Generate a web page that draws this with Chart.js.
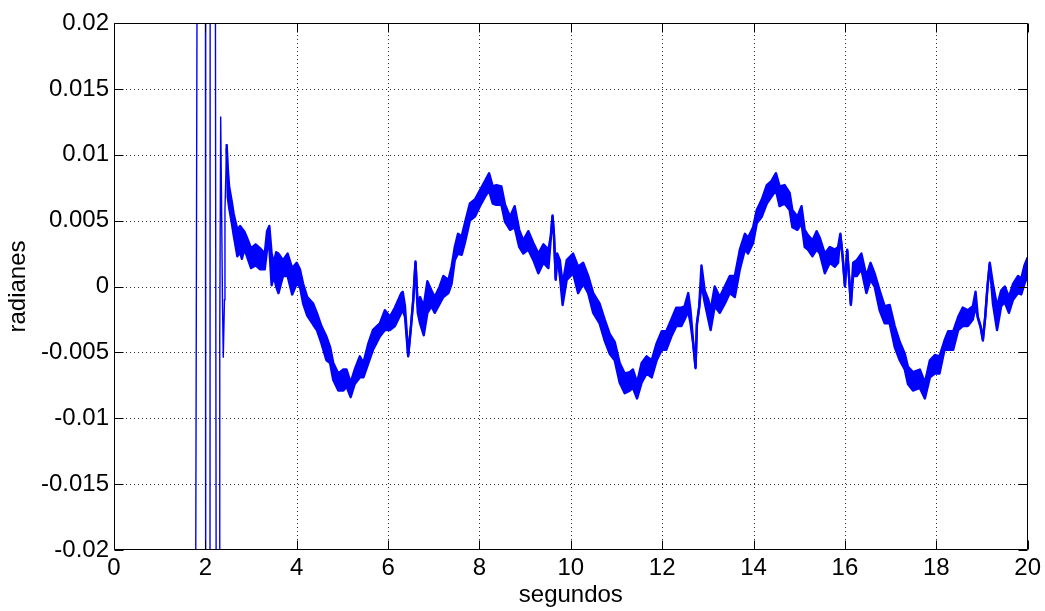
<!DOCTYPE html>
<html>
<head>
<meta charset="utf-8">
<title>radianes vs segundos</title>
<script src="https://cdn.jsdelivr.net/npm/chart.js@4/dist/chart.umd.min.js"></script>
<style>
  html, body { margin: 0; padding: 0; background: #ffffff; }
  canvas { display: block; }
</style>
</head>
<body>
<canvas id="c" width="1045" height="611"></canvas>
<script>
// Start-up transient: fast swings that leave the visible range before settling
const transientTime = [1.783, 1.823, 2.002, 2.007, 2.101, 2.105, 2.217, 2.239, 2.304, 2.315, 2.335, 2.352, 2.374, 2.392, 2.418, 2.429, 2.466];
const transientValue = [-0.03, 0.03, 0.03, -0.03, -0.03, 0.03, 0.03, -0.03, -0.03, -0.0038, 0.0129, 0.0073, -0.001, -0.0054, -0.001, 0.0058, 0.0108];

// Settled response: the fast oscillation is drawn as a band between its upper and lower envelopes
const bandTime = [
  2.466, 2.49, 2.52, 2.58, 2.62, 2.70, 2.76, 2.80, 2.85, 2.90,
  3.00, 3.10, 3.20, 3.30, 3.35, 3.40, 3.45, 3.50, 3.55, 3.60,
  3.70, 3.80, 3.90, 4.00, 4.07, 4.14, 4.23, 4.36, 4.44, 4.54,
  4.65, 4.73, 4.80, 4.91, 5.02, 5.09, 5.18, 5.27, 5.38, 5.46,
  5.57, 5.67, 5.82, 5.93, 6.04, 6.15, 6.29, 6.32, 6.37, 6.44,
  6.50, 6.55, 6.60, 6.65, 6.70, 6.78, 6.86, 6.95, 7.02, 7.13,
  7.21, 7.32, 7.39, 7.46, 7.53, 7.61, 7.68, 7.79, 7.90, 8.01,
  8.12, 8.21, 8.29, 8.37, 8.48, 8.56, 8.67, 8.77, 8.87, 8.96,
  9.07, 9.18, 9.29, 9.40, 9.51, 9.56, 9.60, 9.63, 9.67, 9.70,
  9.76, 9.82, 9.91, 10.05, 10.16, 10.27, 10.38, 10.49, 10.63, 10.74,
  10.85, 10.96, 11.07, 11.18, 11.29, 11.36, 11.45, 11.55, 11.66, 11.77,
  11.88, 11.99, 12.09, 12.20, 12.31, 12.42, 12.49, 12.57, 12.62, 12.68,
  12.73, 12.76, 12.81, 12.86, 12.93, 13.01, 13.06, 13.15, 13.26, 13.37,
  13.48, 13.59, 13.70, 13.81, 13.88, 13.99, 14.07, 14.18, 14.29, 14.39,
  14.49, 14.57, 14.68, 14.79, 14.85, 14.96, 15.05, 15.12, 15.19, 15.29,
  15.38, 15.45, 15.56, 15.67, 15.78, 15.85, 15.90, 15.95, 16.00, 16.05,
  16.09, 16.13, 16.18, 16.26, 16.36, 16.47, 16.56, 16.65, 16.76, 16.87,
  16.98, 17.09, 17.20, 17.31, 17.38, 17.49, 17.64, 17.75, 17.86, 17.97,
  18.07, 18.18, 18.26, 18.37, 18.48, 18.58, 18.69, 18.80, 18.86, 18.91,
  18.97, 19.02, 19.07, 19.12, 19.17, 19.24, 19.33, 19.42, 19.50, 19.59,
  19.68, 19.79, 19.86, 19.93, 20.00
];
const bandUpper = [
  0.0108, 0.0090, 0.0076, 0.0064, 0.0055, 0.0043, 0.0046, 0.0044, 0.0042, 0.0038,
  0.0029, 0.0032, 0.0029, 0.0025, 0.0042, 0.0046, 0.0025, 0.0018, 0.0026, 0.0025,
  0.0020, 0.0025, 0.0014, 0.0018, 0.0013, 0.0002, -0.0008, -0.0013, -0.0020, -0.0030,
  -0.0038, -0.0046, -0.0058, -0.0066, -0.0063, -0.0063, -0.0073, -0.0063, -0.0053, -0.0058,
  -0.0043, -0.0033, -0.0028, -0.0018, -0.0023, -0.0016, -0.0005, -0.0004, -0.0015, -0.0052,
  -0.0030, -0.0010, 0.0019, -0.0015, -0.0008, -0.0015, 0.0004, -0.0003, -0.0008, 0.0000,
  0.0008, 0.0005, 0.0015, 0.0030, 0.0040, 0.0038, 0.0048, 0.0063, 0.0066, 0.0073,
  0.0080, 0.0086, 0.0076, 0.0077, 0.0076, 0.0062, 0.0053, 0.0061, 0.0043, 0.0035,
  0.0042, 0.0033, 0.0025, 0.0032, 0.0028, 0.0038, 0.0054, 0.0040, 0.0006, 0.0025,
  0.0020, 0.0002, 0.0020, 0.0025, 0.0015, 0.0018, 0.0008, -0.0005, -0.0013, -0.0025,
  -0.0036, -0.0042, -0.0058, -0.0066, -0.0065, -0.0063, -0.0073, -0.0058, -0.0053, -0.0056,
  -0.0043, -0.0034, -0.0034, -0.0025, -0.0016, -0.0016, -0.0015, -0.0005, -0.0018, -0.0043,
  -0.0061, -0.0028, -0.0015, 0.0016, -0.0003, -0.0010, -0.0018, 0.0000, -0.0008, 0.0000,
  0.0008, 0.0008, 0.0028, 0.0040, 0.0037, 0.0045, 0.0058, 0.0066, 0.0077, 0.0080,
  0.0086, 0.0076, 0.0077, 0.0071, 0.0058, 0.0053, 0.0061, 0.0043, 0.0039, 0.0035,
  0.0042, 0.0037, 0.0025, 0.0030, 0.0028, 0.0030, 0.0040, 0.0023, 0.0001, 0.0028,
  0.0008, -0.0013, 0.0018, 0.0020, 0.0025, 0.0008, 0.0018, 0.0010, -0.0003, -0.0015,
  -0.0014, -0.0030, -0.0042, -0.0051, -0.0061, -0.0065, -0.0063, -0.0073, -0.0056, -0.0052,
  -0.0053, -0.0041, -0.0034, -0.0034, -0.0023, -0.0016, -0.0018, -0.0015, -0.0004, -0.0023,
  -0.0030, -0.0040, -0.0023, 0.0000, 0.0018, 0.0002, -0.0015, -0.0003, 0.0000, -0.0008,
  0.0002, 0.0008, 0.0006, 0.0016, 0.0022
];
const bandLower = [
  0.0105, 0.0068, 0.0060, 0.0048, 0.0039, 0.0023, 0.0026, 0.0021, 0.0028, 0.0024,
  0.0014, 0.0016, 0.0013, 0.0013, 0.0028, 0.0030, 0.0001, 0.0008, 0.0000, -0.0005,
  0.0008, 0.0008, -0.0006, 0.0002, 0.0000, -0.0013, -0.0022, -0.0029, -0.0033, -0.0043,
  -0.0056, -0.0058, -0.0071, -0.0079, -0.0079, -0.0076, -0.0084, -0.0074, -0.0069, -0.0069,
  -0.0058, -0.0048, -0.0038, -0.0033, -0.0033, -0.0030, -0.0020, -0.0018, -0.0023, -0.0053,
  -0.0031, -0.0011, 0.0018, -0.0020, -0.0028, -0.0037, -0.0020, -0.0015, -0.0020, -0.0013,
  -0.0008, -0.0005, 0.0002, 0.0020, 0.0025, 0.0024, 0.0033, 0.0050, 0.0053, 0.0061,
  0.0068, 0.0073, 0.0063, 0.0062, 0.0062, 0.0049, 0.0043, 0.0045, 0.0030, 0.0025,
  0.0028, 0.0020, 0.0010, 0.0018, 0.0014, 0.0036, 0.0053, 0.0039, 0.0005, 0.0024,
  0.0008, -0.0014, 0.0005, 0.0010, -0.0005, 0.0002, -0.0005, -0.0020, -0.0028, -0.0041,
  -0.0051, -0.0056, -0.0073, -0.0081, -0.0079, -0.0077, -0.0085, -0.0073, -0.0066, -0.0069,
  -0.0056, -0.0048, -0.0048, -0.0038, -0.0030, -0.0030, -0.0025, -0.0019, -0.0028, -0.0044,
  -0.0062, -0.0029, -0.0016, 0.0002, -0.0012, -0.0025, -0.0033, -0.0015, -0.0020, -0.0013,
  -0.0005, -0.0008, 0.0013, 0.0028, 0.0025, 0.0033, 0.0048, 0.0053, 0.0063, 0.0068,
  0.0073, 0.0061, 0.0063, 0.0058, 0.0045, 0.0043, 0.0048, 0.0030, 0.0028, 0.0023,
  0.0028, 0.0025, 0.0010, 0.0018, 0.0015, 0.0018, 0.0039, 0.0022, 0.0000, 0.0027,
  0.0007, -0.0014, 0.0008, 0.0008, 0.0013, -0.0005, 0.0005, 0.0000, -0.0018, -0.0028,
  -0.0028, -0.0046, -0.0056, -0.0063, -0.0074, -0.0079, -0.0077, -0.0085, -0.0069, -0.0066,
  -0.0066, -0.0048, -0.0048, -0.0048, -0.0033, -0.0030, -0.0030, -0.0025, -0.0015, -0.0024,
  -0.0031, -0.0041, -0.0024, -0.0001, 0.0017, -0.0013, -0.0033, -0.0015, -0.0012, -0.0020,
  -0.0010, -0.0005, -0.0006, 0.0002, 0.0008
];

// Axis ticks and their labels
const xTickValues = [0, 2, 4, 6, 8, 10, 12, 14, 16, 18, 20];
const xTickLabels = ['0', '2', '4', '6', '8', '10', '12', '14', '16', '18', '20'];
const yTickValues = [-0.02, -0.015, -0.01, -0.005, 0, 0.005, 0.01, 0.015, 0.02];
const yTickLabels = ['-0.02', '-0.015', '-0.01', '-0.005', '0', '0.005', '0.01', '0.015', '0.02'];

const xTitle = 'segundos';
const yTitle = 'radianes';

const FONT = "'Liberation Sans', Arial, Helvetica, sans-serif";
const BLUE = '#0000ff';

function toPoints(xs, ys) {
  return xs.map((x, i) => ({ x: x, y: ys[i] }));
}

// Dotted grid under the data, solid box with inward tick marks over it
const boxedAxes = {
  id: 'boxedAxes',
  beforeDatasetsDraw(chart) {
    const { ctx, chartArea: a, scales } = chart;
    const xs = scales.x, ys = scales.y;
    ctx.save();
    ctx.strokeStyle = 'rgba(0,0,0,0.8)';
    ctx.lineWidth = 1;
    ctx.setLineDash([1, 3]);
    ctx.beginPath();
    xTickValues.forEach(v => {
      if (v > xs.min && v < xs.max) {
        const px = Math.round(xs.getPixelForValue(v)) + 0.5;
        ctx.moveTo(px, a.top);
        ctx.lineTo(px, a.bottom);
      }
    });
    yTickValues.forEach(v => {
      if (v > ys.min && v < ys.max) {
        const py = Math.round(ys.getPixelForValue(v)) + 0.5;
        ctx.moveTo(a.left, py);
        ctx.lineTo(a.right, py);
      }
    });
    ctx.stroke();
    ctx.restore();
  },
  afterDatasetsDraw(chart) {
    const { ctx, chartArea: a, scales } = chart;
    const xs = scales.x, ys = scales.y;
    const L = Math.round(a.left) + 0.5, R = Math.round(a.right) - 0.5;
    const T = Math.round(a.top) + 0.5, B = Math.round(a.bottom) - 0.5;
    const tick = 9;
    ctx.save();
    ctx.strokeStyle = '#000000';
    ctx.lineWidth = 1;
    ctx.setLineDash([]);
    ctx.beginPath();
    ctx.rect(L, T, R - L, B - T);
    xTickValues.forEach(v => {
      const px = Math.round(xs.getPixelForValue(v)) + 0.5;
      ctx.moveTo(px, B); ctx.lineTo(px, B - tick);
      ctx.moveTo(px, T); ctx.lineTo(px, T + tick);
    });
    yTickValues.forEach(v => {
      const py = Math.round(ys.getPixelForValue(v)) + 0.5;
      ctx.moveTo(L, py); ctx.lineTo(L + tick, py);
      ctx.moveTo(R, py); ctx.lineTo(R - tick, py);
    });
    ctx.stroke();
    ctx.restore();
  }
};

new Chart(document.getElementById('c'), {
  type: 'line',
  data: {
    datasets: [
      {
        label: 'transitorio',
        data: toPoints(transientTime, transientValue),
        borderColor: BLUE,
        borderWidth: 1.4,
        pointRadius: 0,
        fill: false,
        tension: 0,
        clip: 0
      },
      {
        label: 'envolvente superior',
        data: toPoints(bandTime, bandUpper),
        borderColor: BLUE,
        backgroundColor: BLUE,
        borderWidth: 2.4,
        borderJoinStyle: 'round',
        pointRadius: 0,
        fill: '+1',
        tension: 0,
        clip: 0
      },
      {
        label: 'envolvente inferior',
        data: toPoints(bandTime, bandLower),
        borderColor: BLUE,
        borderWidth: 2.4,
        borderJoinStyle: 'round',
        pointRadius: 0,
        fill: false,
        tension: 0,
        clip: 0
      }
    ]
  },
  options: {
    responsive: false,
    animation: false,
    devicePixelRatio: 1,
    layout: { padding: { top: 23, right: 17, left: 0, bottom: 0 } },
    plugins: {
      legend: { display: false },
      tooltip: { enabled: false }
    },
    scales: {
      x: {
        type: 'linear',
        min: 0,
        max: 20,
        afterBuildTicks: s => { s.ticks = xTickValues.map(v => ({ value: v })); },
        afterFit: s => { s.height = 61; },
        grid: { display: false, drawTicks: false },
        border: { display: false },
        ticks: {
          color: '#000000',
          font: { family: FONT, size: 24 },
          padding: 4,
          maxRotation: 0,
          autoSkip: false,
          callback: v => xTickLabels[xTickValues.indexOf(v)]
        },
        title: {
          display: true,
          text: xTitle,
          color: '#000000',
          font: { family: FONT, size: 24 },
          padding: { top: 0, bottom: 1 }
        }
      },
      y: {
        type: 'linear',
        min: -0.02,
        max: 0.02,
        afterBuildTicks: s => { s.ticks = yTickValues.map(v => ({ value: v })); },
        afterFit: s => { s.width = 114; },
        grid: { display: false, drawTicks: false },
        border: { display: false },
        ticks: {
          color: '#000000',
          font: { family: FONT, size: 24 },
          padding: 5,
          autoSkip: false,
          callback: v => yTickLabels[yTickValues.indexOf(v)]
        },
        title: {
          display: true,
          text: yTitle,
          color: '#000000',
          font: { family: FONT, size: 24 },
          padding: { top: 4, bottom: 0 }
        }
      }
    }
  },
  plugins: [boxedAxes]
});
</script>
</body>
</html>
